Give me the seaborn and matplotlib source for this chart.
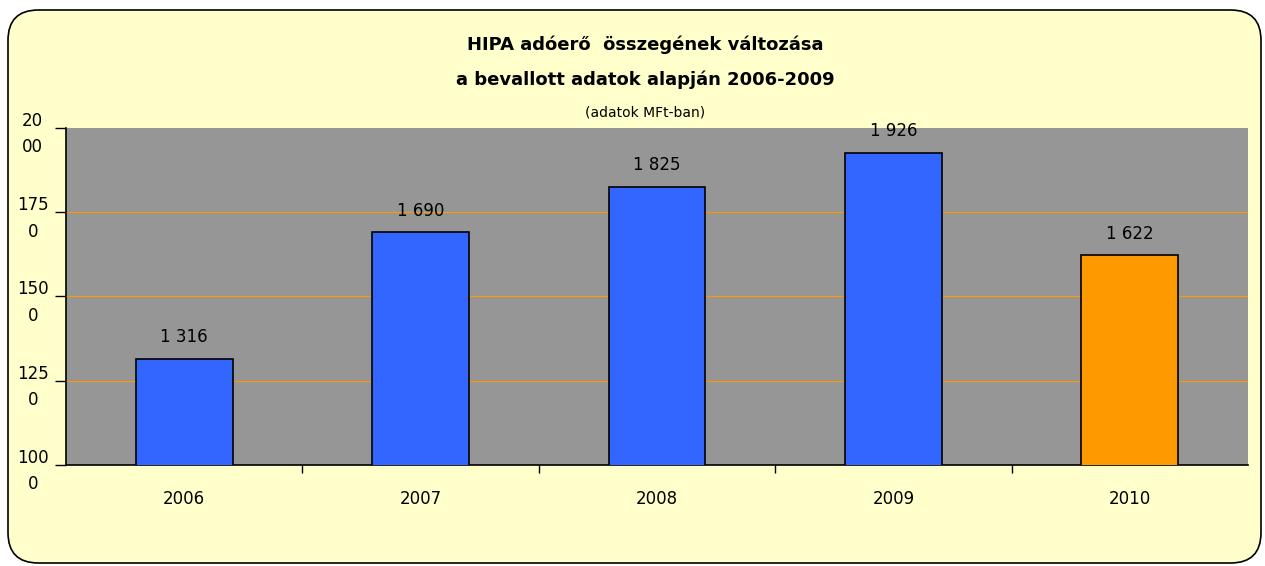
import matplotlib
matplotlib.use("Agg")
import matplotlib.pyplot as plt
from matplotlib.patches import FancyBboxPatch
import seaborn as sns
import pandas as pd

# adatok
years = ["2006", "2007", "2008", "2009", "2010"]
values = [1316, 1690, 1825, 1926, 1622]
bar_colors = ["#3366FF", "#3366FF", "#3366FF", "#3366FF", "#FF9900"]
y_ticks = [1000, 1250, 1500, 1750, 2000]
y_tick_labels = ["100\n0", "125\n0", "150\n0", "175\n0", "20\n00"]
title_lines = ["HIPA adóerő  összegének változása",
               "a bevallott adatok alapján 2006-2009"]
subtitle = "(adatok MFt-ban)"

df = pd.DataFrame({"ev": years, "ertek": values})

sns.set_theme(style="white")
plt.rcParams["font.family"] = ["DejaVu Sans"]
plt.rcParams["text.color"] = "black"
plt.rcParams["xtick.color"] = "black"
plt.rcParams["ytick.color"] = "black"

fig = plt.figure(figsize=(12.65, 5.66), dpi=100)
fig.patch.set_facecolor("white")

# lekerekített háttér keret
W, H = 1265, 566
box = FancyBboxPatch((8 / W, 3 / H), 1253 / W, 553 / H,
                     boxstyle="round,pad=0,rounding_size=0.024",
                     transform=fig.transFigure, facecolor="#FFFFCC",
                     edgecolor="black", linewidth=1.2,
                     mutation_aspect=W / H, zorder=-5)
fig.patches.append(box)

ax = fig.add_axes([66 / W, 1 - 465 / H, (1248 - 66) / W, (465 - 128) / H])
ax.set_facecolor("#969696")

sns.barplot(data=df, x="ev", y="ertek", hue="ev", palette=bar_colors,
            legend=False, width=0.41, edgecolor="black", linewidth=1.2,
            saturation=1, ax=ax, zorder=3)

ax.set_ylim(1000, 2000)
ax.set_xlim(-0.5, len(years) - 0.5)
for yv in y_ticks[1:-1]:
    ax.axhline(yv, color="#FF9900", linewidth=0.8, zorder=1)

ax.set_yticks(y_ticks)
ax.set_yticklabels(y_tick_labels, linespacing=1.6, ha="center", fontsize=12)
ax.tick_params(axis="y", direction="out", length=8, width=1, color="black",
               left=True, pad=16)
ax.tick_params(axis="x", length=0, pad=18, labelsize=12)
ax.set_xticks(range(len(years)), minor=False)
ax.set_xticks([i + 0.5 for i in range(len(years) - 1)], minor=True)
ax.tick_params(axis="x", which="minor", direction="out", length=6,
               width=1, color="black", bottom=True)

ax.set_xlabel("")
ax.set_ylabel("")
for s in ["top", "right"]:
    ax.spines[s].set_visible(False)
for s in ["left", "bottom"]:
    ax.spines[s].set_color("black")
    ax.spines[s].set_linewidth(1.2)

for cont in ax.containers:
    labels = [f"{v:,.0f}".replace(",", " ") for v in cont.datavalues]
    ax.bar_label(cont, labels=labels, padding=9, fontsize=12)

fig.text(645 / W, 1 - 45 / H, title_lines[0], ha="center", va="center",
         fontsize=13, fontweight="bold")
fig.text(645 / W, 1 - 80 / H, title_lines[1], ha="center", va="center",
         fontsize=13, fontweight="bold")
fig.text(645 / W, 1 - 113 / H, subtitle, ha="center", va="center",
         fontsize=10)

fig.savefig("out.png", dpi=100, facecolor=fig.get_facecolor())
